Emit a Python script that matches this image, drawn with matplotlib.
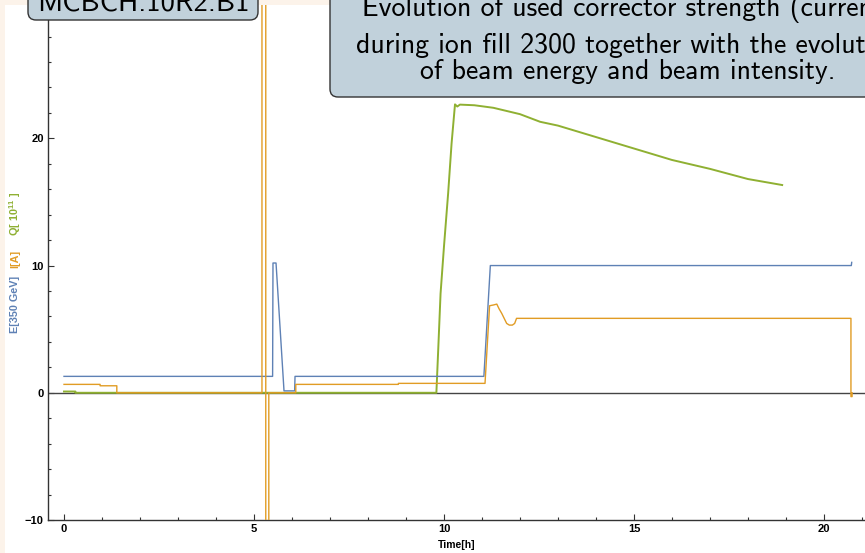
import matplotlib
matplotlib.use("Agg")
import matplotlib.pyplot as plt
from matplotlib.patches import FancyBboxPatch, Rectangle
from matplotlib.transforms import Affine2D

# ---------------- data ----------------
blue_t = [0, 5.49, 5.50, 5.58, 5.79, 6.07, 6.08, 11.05, 11.22, 20.72, 20.73]
blue_v = [1.29, 1.29, 10.2, 10.2, 0.15, 0.15, 1.29, 1.29, 10.0, 10.0, 10.25]

orange_t = [0, 0.95, 0.95, 1.39, 1.39, 5.21, 5.21, 5.31, 5.31, 5.39, 5.39,
            6.1, 6.1, 8.8, 8.8, 11.08, 11.2, 11.3, 11.39, 11.45, 11.52, 11.65,
            11.72, 11.8, 11.86, 11.91, 20.71, 20.71, 20.74, 20.74]
orange_v = [0.66, 0.66, 0.55, 0.55, 0, 0, 45, 45, -45, -45, 0,
            0, 0.66, 0.66, 0.74, 0.74, 6.84, 6.9, 6.97, 6.6, 6.24, 5.45,
            5.32, 5.32, 5.45, 5.85, 5.85, -0.3, -0.3, 0]

green_t = [0, 0.3, 0.3, 9.8, 9.85, 9.91, 10.0, 10.11, 10.2, 10.29, 10.35,
           10.42, 10.8, 11.3, 12.0, 12.53, 13.0, 14.0, 15.0, 16.0, 17.0, 18.0, 18.9]
green_v = [0.1, 0.1, 0, 0, 3.5, 7.8, 11.5, 15.7, 19.6, 22.67, 22.5,
           22.65, 22.6, 22.4, 21.9, 21.3, 21.0, 20.1, 19.2, 18.3, 17.6, 16.8, 16.33]

x_ticks = [0, 5, 10, 15, 20]
y_ticks = [-10, 0, 10, 20]

title_left = "MCBCH.10R2.B1"
title_right = ["Evolution of used corrector strength (current)",
               "during ion fill 2300 together with the evolution",
               "of beam energy and beam intensity."]

BLUE = (0.368, 0.507, 0.710)
ORANGE = (0.881, 0.611, 0.142)
GREEN = (0.560, 0.692, 0.195)

W, H = 865, 553
fig = plt.figure(figsize=(W / 100, H / 100), dpi=100, facecolor="#fcf3ea")
# white slide area
fig.patches.append(Rectangle((5 / W, 0), 1, 1 - 5 / H, transform=fig.transFigure,
                             facecolor="white", edgecolor="none", zorder=-5))

ax = fig.add_axes([48 / W, 1 - 520 / H, 1 - 48 / W, (520 - 5) / H])
ax.set_facecolor("none")
ax.set_zorder(1)
ax.set_xlim(-0.421, 21.08)
ax.set_ylim(-10.0, 30.48)

ax.plot(green_t, green_v, color=GREEN, lw=1.4, zorder=3)
ax.plot(blue_t, blue_v, color=BLUE, lw=1.0, zorder=4)
ax.plot(orange_t, orange_v, color=ORANGE, lw=1.0, zorder=5)
ax.axhline(0, color="#444444", lw=1.0, zorder=2)

for s in ["top", "right"]:
    ax.spines[s].set_visible(False)
for s in ["left", "bottom"]:
    ax.spines[s].set_color("#333333")
    ax.spines[s].set_linewidth(1.0)

ax.set_xticks(x_ticks)
ax.set_xticks(range(0, 22), minor=True)
ax.set_yticks(y_ticks)
ax.set_yticks(range(-10, 31, 2), minor=True)
ax.set_xticklabels([str(v) for v in x_ticks])
ax.set_yticklabels([("\u2212" + str(-v)) if v < 0 else str(v) for v in y_ticks])
ax.tick_params(which="both", direction="in", color="#333333", width=0.8)
ax.tick_params(which="major", length=4, labelsize=8, pad=3)
ax.tick_params(which="minor", length=2.5)
for lab in ax.get_xticklabels() + ax.get_yticklabels():
    lab.set_fontweight("bold")
    lab.set_family("Liberation Sans")

ax.set_xlabel("Time[h]", fontsize=7.5, fontweight="bold", family="Liberation Sans",
              labelpad=4)

# y label, three colored pieces
plt.rcParams["mathtext.fontset"] = "custom"
plt.rcParams["mathtext.bf"] = "Liberation Sans:bold"
plt.rcParams["mathtext.rm"] = "Liberation Sans:bold"
fig.text(15 / W, 1 - 304 / H, "E[350 GeV]", rotation=90, color=BLUE, fontsize=7.8,
         fontweight="bold", family="Liberation Sans", ha="center", va="center")
fig.text(15 / W, 1 - 259 / H, "I[A]", rotation=90, color=ORANGE, fontsize=7.8,
         fontweight="bold", family="Liberation Sans", ha="center", va="center")
fig.text(15 / W, 1 - 214 / H, r"Q[ 10$^{\mathbf{11}}$ ]", rotation=90, color=GREEN,
         fontsize=7.8, fontweight="bold", family="Liberation Sans", ha="center",
         va="center")

# title boxes
pix = Affine2D().scale(1 / W, 1 / H) + fig.transFigure
boxc = "#c1d1db"
fig.patches.append(FancyBboxPatch((28, H - 20), 230, 60,
                                  boxstyle="round,pad=0,rounding_size=8",
                                  transform=pix, facecolor=boxc, edgecolor="#333333",
                                  lw=1.0, zorder=10, clip_on=False))
fig.text(143 / W, 1 - 12 / H, title_left, fontsize=20.7, family="cmss10",
         ha="center", va="baseline", zorder=11)

fig.patches.append(FancyBboxPatch((330, H - 97), 620, 140,
                                  boxstyle="round,pad=0,rounding_size=8",
                                  transform=pix, facecolor=boxc, edgecolor="#333333",
                                  lw=1.0, zorder=10, clip_on=False))
for line, base in zip(title_right, [16, 53, 79]):
    fig.text(628 / W, 1 - base / H, line, fontsize=20, family="cmss10",
             ha="center", va="baseline", zorder=11)

fig.savefig("out.png", dpi=100, facecolor=fig.get_facecolor())
